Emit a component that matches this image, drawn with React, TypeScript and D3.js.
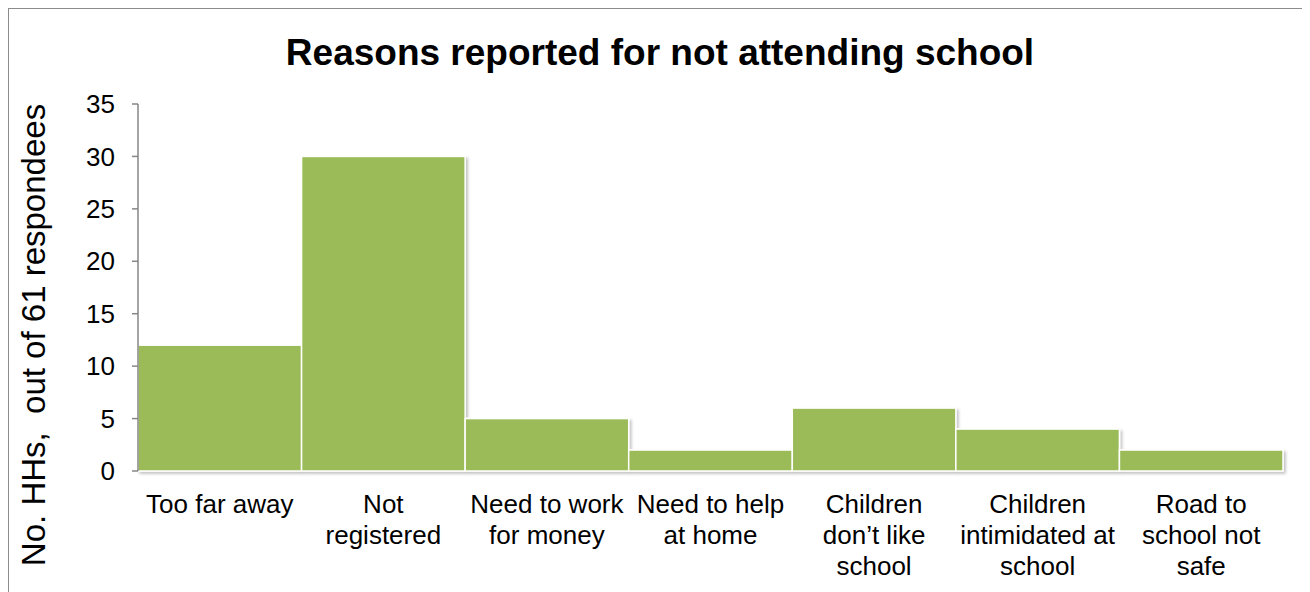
import React from "react";
import * as d3 from "d3";

const categories: string[][] = [
  ["Too far away"],
  ["Not", "registered"],
  ["Need to work", "for money"],
  ["Need to help", "at home"],
  ["Children", "don’t like", "school"],
  ["Children", "intimidated at", "school"],
  ["Road to", "school not", "safe"],
];
const values: number[] = [12, 30, 5, 2, 6, 4, 2];
const yTicks: number[] = [0, 5, 10, 15, 20, 25, 30, 35];
const title = "Reasons reported for not attending school";
const yTitle = "No. HHs,  out of 61 respondees";

const W = 1310;
const H = 592;
const left = 130;
const right = 1275;
const top = 96;
const bottom = 463;
const FONT = "'Liberation Sans', Arial, sans-serif";

export default function App() {
  const x = d3
    .scaleBand<number>()
    .domain(values.map((_, i) => i))
    .range([left, right])
    .paddingInner(0)
    .paddingOuter(0);
  const y = d3.scaleLinear().domain([0, 35]).range([bottom, top]);

  return (
    <svg width={W} height={H} style={{ display: "block" }}>
      <defs>
        <filter id="shadow" x="-5%" y="-5%" width="115%" height="115%">
          <feGaussianBlur in="SourceAlpha" stdDeviation="1.5" />
          <feOffset dx="2" dy="2" result="b" />
          <feComponentTransfer>
            <feFuncA type="linear" slope="0.25" />
          </feComponentTransfer>
          <feMerge>
            <feMergeNode />
            <feMergeNode in="SourceGraphic" />
          </feMerge>
        </filter>
      </defs>
      <rect x={0} y={0} width={W} height={H} fill="#fff" stroke="#8c8c8c" strokeWidth={2} />
      <text
        x={652}
        y={57}
        textAnchor="middle"
        fontFamily={FONT}
        fontWeight="bold"
        fontSize={37}
        fill="#000"
      >
        {title}
      </text>
      <text
        transform={`translate(37, 327) rotate(-90)`}
        textAnchor="middle"
        fontFamily={FONT}
        fontSize={33}
        fill="#000"
        style={{ whiteSpace: "pre" }}
      >
        {yTitle}
      </text>
      {/* bars */}
      <g filter="url(#shadow)">
        {values.map((v, i) => (
          <rect
            key={i}
            x={x(i)!}
            y={y(v)}
            width={x.bandwidth()}
            height={bottom - y(v)}
            fill="#9BBB59"
            stroke="#ffffff"
            strokeWidth={1.5}
          />
        ))}
      </g>
      {/* y axis */}
      <line x1={left} x2={left} y1={top} y2={bottom} stroke="#868686" strokeWidth={1.5} />
      {yTicks.map((t) => (
        <g key={t}>
          <line x1={left - 6} x2={left} y1={y(t)} y2={y(t)} stroke="#868686" strokeWidth={1.5} />
          <text
            x={left - 23}
            y={y(t)}
            dy="0.35em"
            textAnchor="end"
            fontFamily={FONT}
            fontSize={26}
            fill="#000"
          >
            {t}
          </text>
        </g>
      ))}
      {/* x axis */}
      <g filter="url(#shadow)">
        <line x1={left - 6} x2={right} y1={bottom} y2={bottom} stroke="#868686" strokeWidth={1.5} />
      </g>
      {categories.map((lines, i) => (
        <text
          key={i}
          x={x(i)! + x.bandwidth() / 2}
          y={505}
          textAnchor="middle"
          fontFamily={FONT}
          fontSize={26}
          fill="#000"
        >
          {lines.map((l, j) => (
            <tspan key={j} x={x(i)! + x.bandwidth() / 2} dy={j === 0 ? 0 : 31}>
              {l}
            </tspan>
          ))}
        </text>
      ))}
    </svg>
  );
}
